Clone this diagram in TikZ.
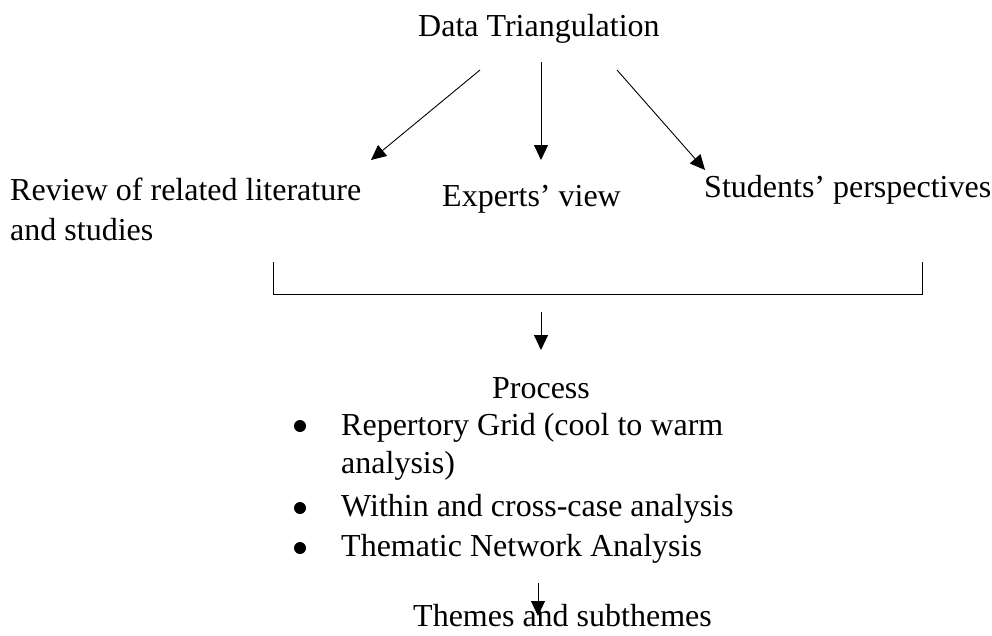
\documentclass[tikz,border=0pt]{standalone}
\usepackage{fontspec}
\setmainfont{Liberation Serif}
\usetikzlibrary{arrows.meta}
\begin{document}
\begin{tikzpicture}[x=1pt,y=-1pt,
  txt/.style={inner sep=0pt,font=\fontsize{32}{40}\selectfont},
  arr/.style={-{Triangle[length=15pt,width=14pt]},line width=0.9pt},
  ln/.style={line width=0.9pt},
  bul/.style={circle,fill=black,inner sep=0pt,minimum size=12pt}]
\useasboundingbox (0,0) rectangle (992,635);
\node[txt,anchor=base west] (dt) at (418,36) {Data Triangulation};
\node[txt,anchor=base west] (rev1) at (10,200) {Review of related literature};
\node[txt,anchor=base west] (rev2) at (10,240) {and studies};
\node[txt,anchor=base west] (exp) at (442,206) {Experts’ view};
\node[txt,anchor=base west] (stu) at (704,197) {Students’ perspectives};
\coordinate (a1s) at (480,70); \coordinate (a1e) at (371,160);
\coordinate (a2s) at (541,62); \coordinate (a2e) at (541,160);
\coordinate (a3s) at (617,70); \coordinate (a3e) at (705,170);
\draw[arr] (a1s) -- (a1e);
\draw[arr] (a2s) -- (a2e);
\draw[arr] (a3s) -- (a3e);
\coordinate (bl) at (273,262); \coordinate (br) at (922,262);
\draw[ln] (bl) -- (273,294) -- (922,294) -- (br);
\coordinate (p1s) at (541,312); \coordinate (p1e) at (541,350);
\draw[arr] (p1s) -- (p1e);
\node[txt,anchor=base] (proc) at (541,398) {Process};
\node[bul] (b1) at (300,426) {};
\node[txt,anchor=base west] (l1) at (341,435) {Repertory Grid (cool to warm};
\node[txt,anchor=base west] (l2) at (341,473) {analysis)};
\node[bul] (b2) at (300,508) {};
\node[txt,anchor=base west] (l3) at (341,516) {Within and cross-case analysis};
\node[bul] (b3) at (300,548) {};
\node[txt,anchor=base west] (l4) at (341,556) {Thematic Network Analysis};
\node[txt,anchor=base west] (th) at (413,626) {Themes and subthemes};
\coordinate (p2s) at (538,583); \coordinate (p2e) at (538,616);
\draw[arr] (p2s) -- (p2e);
\end{tikzpicture}
\end{document}
